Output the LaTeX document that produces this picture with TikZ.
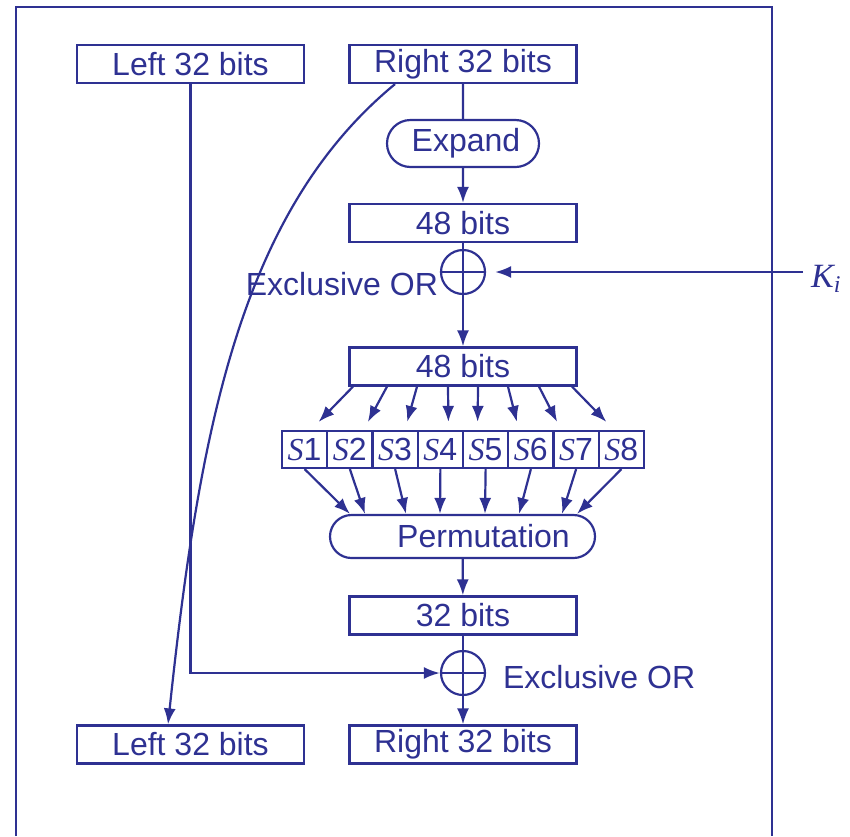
\documentclass[tikz,border=0pt]{standalone}
\usepackage{fontspec}
\setmainfont{Liberation Sans}
\newfontfamily\serifface{Liberation Serif}
\usetikzlibrary{shapes.misc,arrows.meta,calc}
\definecolor{desblue}{RGB}{46,49,146}
\tikzset{
  bitbox/.style={draw, minimum width=113.5pt, minimum height=19pt, inner sep=0pt},
  roundbox/.style={draw, rounded rectangle, inner sep=0pt},
  sbox/.style={draw, minimum width=22.6pt, minimum height=18.5pt, inner sep=0pt},
  xorsym/.style={draw, circle, minimum size=22pt, inner sep=0pt},
  arr/.style={-{Latex[length=8pt,width=6pt]}}
}
\begin{document}
\begin{tikzpicture}[x=0.5pt,y=-0.5pt,line width=1.1pt,desblue,font=\fontsize{16}{19}\selectfont]
\useasboundingbox (0,0) rectangle (850,836);
\draw (16,836) -- (16,7) -- (772,7) -- (772,836);

\node[bitbox] (lefttop) at (190.5,64) {Left 32 bits};
\node[bitbox] (righttop) at (463,64) {Right 32 bits};
\node[roundbox,minimum width=76pt,minimum height=23.5pt] (expand) at (463,143.5) {\hspace*{3pt}Expand};
\node[bitbox] (bitsa) at (463,223) {48 bits};
\node[xorsym] (xora) at (463,272) {};
\node[anchor=base east,inner sep=0pt] (xoralab) at (439,295) {Exclusive OR};
\node[anchor=base west,inner sep=0pt] (key) at (810,287)
  {\fontsize{17}{20}\selectfont\serifface\itshape K\raisebox{-2.5pt}{\fontsize{12}{12}\selectfont i}};
\coordinate (keyin) at (803,272);
\node[bitbox] (bitsb) at (463,366.5) {48 bits};
\foreach \k in {1,...,8}
  \node[sbox] (s\k) at ({282+45.25*(\k-0.5)},449.5) {{\serifface\itshape S}\k};
\node[roundbox,minimum width=132.5pt,minimum height=21.5pt] (perm) at (462.5,536.5) {\hspace*{21pt}Permutation};
\node[bitbox] (bitsc) at (463,615.5) {32 bits};
\node[xorsym] (xorb) at (463,673) {};
\node[anchor=base west,inner sep=0pt] (xorblab) at (502,688) {Exclusive OR};
\node[bitbox] (leftbot) at (190.5,744.5) {Left 32 bits};
\node[bitbox] (rightbot) at (463,744.5) {Right 32 bits};

\draw (righttop) -- (expand);
\draw[arr] (expand) -- (bitsa);
\draw (bitsa) -- (xora.south);
\draw (xora.west) -- (xora.east);
\draw[arr] (xora.south) -- (bitsb);
\draw[arr,shorten >=4.5pt] (keyin) -- (xora.east);

\foreach \k/\ds/\de in {
1/-110/14,
2/-76/18,
3/-46/12,
4/-15/8,
5/15/-8,
6/45/-14,
7/76/-19,
8/109/-15}
{
    \draw[arr] ($(bitsb.south)+(\ds,0)$) -- ($(s\k.north)+(\de,-8)$);
}
\foreach \k/\de in {1/-112.5,2/-97.5,3/-56.5,4/-22.5,5/22.5,6/56.5,7/99.5,8/114.5}
{
    \draw[arr] (s\k.south) -- ($(perm.north)+(\de,0)$);
}

\draw[arr] (perm) -- (bitsc);
\draw (bitsc) -- (xorb.south);
\draw (xorb.west) -- (xorb.east);
\draw[arr] (xorb.south) -- (rightbot);
\draw[arr] (lefttop) |- (xorb.west);
\draw[arr] ($(righttop.south)+(-68,0)$) .. controls (241,211) and (199.5,427.5) .. ($(leftbot.north)+(-22.5,0)$);
\end{tikzpicture}
\end{document}
